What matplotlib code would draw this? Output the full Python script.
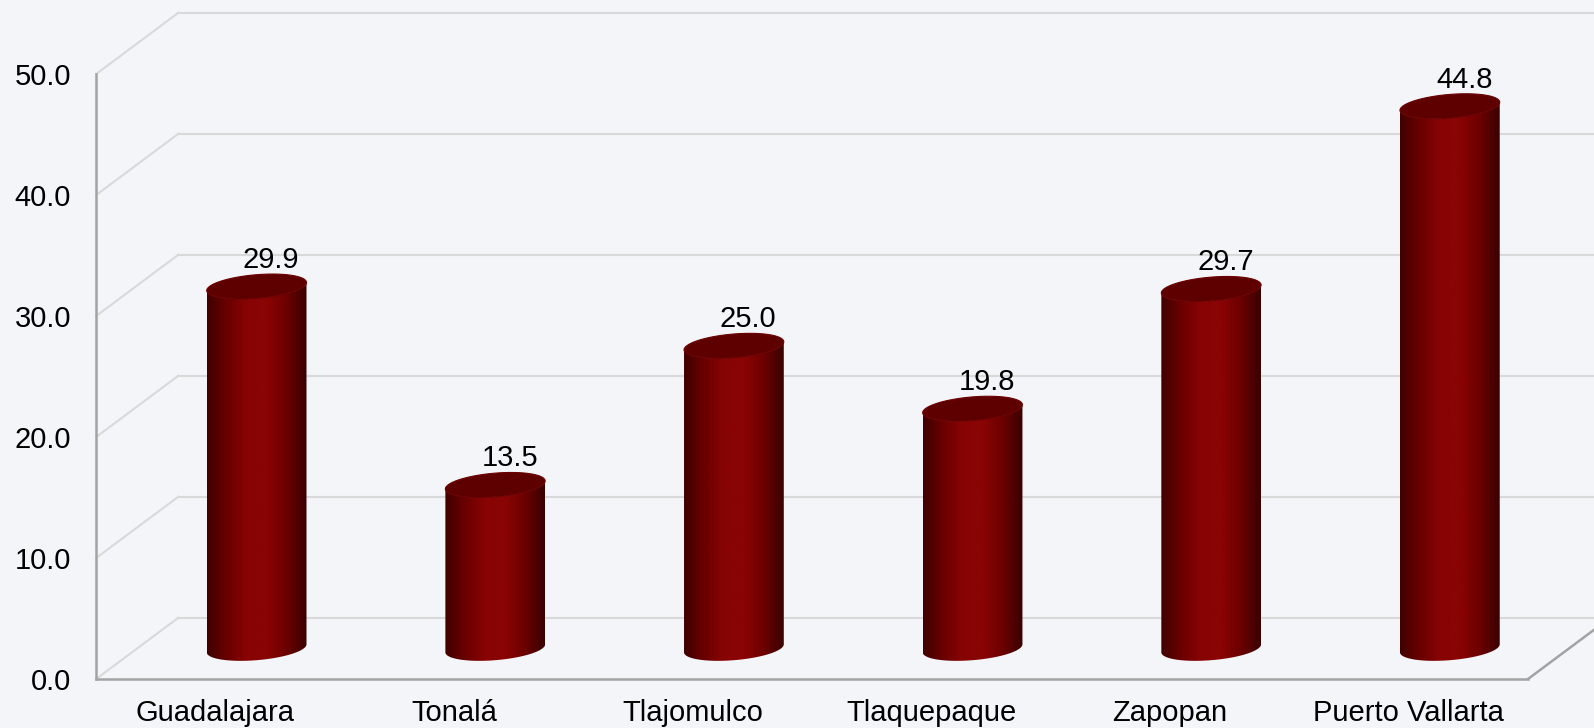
import matplotlib.pyplot as plt
import numpy as np
from matplotlib.colors import LinearSegmentedColormap
from matplotlib.patches import Polygon

categories = ["Guadalajara", "Tonalá", "Tlajomulco", "Tlaquepaque", "Zapopan", "Puerto Vallarta"]
values = [29.9, 13.5, 25.0, 19.8, 29.7, 44.8]
y_ticks = [0, 10, 20, 30, 40, 50]
tick_labels = ["0.0", "10.0", "20.0", "30.0", "40.0", "50.0"]

bg = "#F3F5F9"
grid_col = "#D9D9D9"
axis_col = "#A3A3A3"

# fake 3d: offset of the back wall in data units
depth_x = 0.345
depth_y = 5.07

plt.rcParams["font.family"] = ["Liberation Sans", "DejaVu Sans"]

fig = plt.figure(figsize=(15.94, 7.28), dpi=100, facecolor=bg)
ax = fig.add_axes([0.0603, 0.0673, 0.8983, 0.831])
ax.set_facecolor("none")
n = len(categories)
xmin, xmax = -0.5, n - 0.5

# back wall gridlines + diagonals from the front axis
for t in y_ticks:
    ax.plot([xmin, xmin + depth_x], [t, t + depth_y], color=grid_col, lw=1.5, clip_on=False, zorder=1)
    ax.plot([xmin + depth_x, xmax + depth_x], [t + depth_y, t + depth_y], color=grid_col, lw=1.5,
            clip_on=False, zorder=1)

# floor right edge
ax.plot([xmax, xmax + depth_x], [0, depth_y], color=axis_col, lw=1.8, clip_on=False, zorder=1)

cmap = LinearSegmentedColormap.from_list(
    "cyl", ["#400000", "#6a0000", "#880404", "#8a0404", "#6c0000", "#3a0000"])
grad = np.linspace(0, 1, 256).reshape(1, -1)

hw = 0.209   # half width of a cylinder
b = 0.98     # half height of the ellipse
k = 0.33     # tilt of the ellipse


def cylinder(cx, y0, y1):
    tf = np.linspace(np.pi, 2 * np.pi, 80)
    base_x = cx + hw * np.cos(tf)
    base_y = y0 + b * np.sin(tf) + k * np.cos(tf)
    top_x = cx + hw * np.cos(tf[::-1])
    top_y = y1 + b * np.sin(tf[::-1]) + k * np.cos(tf[::-1])
    body = np.column_stack([np.r_[base_x, top_x], np.r_[base_y, top_y]])
    poly = Polygon(body, closed=True, facecolor="none", edgecolor="none", zorder=3)
    ax.add_patch(poly)
    im = ax.imshow(grad, cmap=cmap, aspect="auto", zorder=3,
                   extent=[cx - hw, cx + hw, y0 - b - k - 0.2, y1 + b + k + 0.2])
    im.set_clip_path(poly)

    tt = np.linspace(0, 2 * np.pi, 160)
    cap = np.column_stack([cx + hw * np.cos(tt), y1 + b * np.sin(tt) + k * np.cos(tt)])
    ax.add_patch(Polygon(cap, closed=True, facecolor="#5e0000", edgecolor="#6c0000", lw=0.8, zorder=4))


for i, v in enumerate(values):
    cx = i + depth_x / 2
    base = depth_y / 2
    cylinder(cx, base, v + base)
    ax.text(cx + 0.06, v + base + 2.2, f"{v:.1f}", ha="center", va="center", fontsize=21, zorder=5)

ax.set_xlim(xmin, xmax)
ax.set_ylim(0, 50)
ax.set_yticks(y_ticks)
ax.set_yticklabels(tick_labels)
ax.set_xticks(range(n))
ax.set_xticklabels(categories)
ax.tick_params(axis="y", length=0, pad=18, labelsize=21)
ax.tick_params(axis="x", length=0, pad=14.5, labelsize=21)

for s in ["top", "right"]:
    ax.spines[s].set_visible(False)
for s in ["left", "bottom"]:
    ax.spines[s].set_color(axis_col)
    ax.spines[s].set_linewidth(1.8)

fig.savefig("out.png", dpi=100, facecolor=bg)
